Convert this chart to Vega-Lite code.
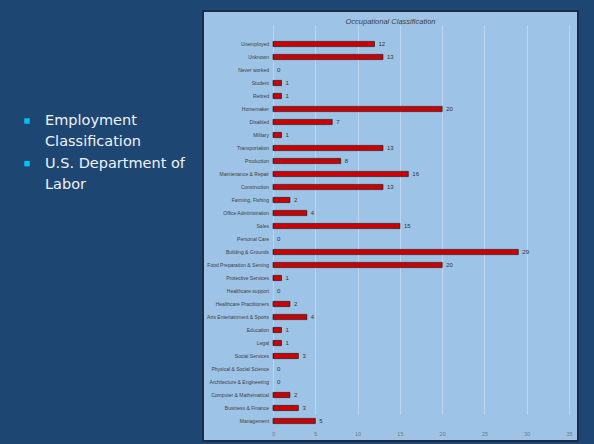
{
  "$schema": "https://vega.github.io/schema/vega-lite/v6.json",
  "background": "#1e4672",
  "padding": {"left": 0, "top": 10, "right": 16, "bottom": 4},
  "bounds": "flush",
  "spacing": 8,
  "config": {"view": {"stroke": null}, "font": "Liberation Sans"},
  "hconcat": [
    {
      "width": 195,
      "height": 430,
      "view": {"stroke": null, "fill": null},
      "data": {"values": [
        {"line": 1, "text": "Employment", "bullet": true},
        {"line": 2, "text": "Classification", "bullet": false},
        {"line": 3, "text": "U.S. Department of", "bullet": true},
        {"line": 4, "text": "Labor", "bullet": false}
      ]},
      "encoding": {
        "x": {"datum": 0, "type": "quantitative", "scale": {"domain": [0, 1], "range": [27, 195]}, "axis": null},
        "y": {"field": "line", "type": "quantitative", "scale": {"domain": [-4.156, 16.0], "reverse": true, "nice": false, "zero": false}, "axis": null}
      },
      "layer": [
        {
          "transform": [{"filter": "datum.bullet"}],
          "mark": {"type": "square", "size": 30, "color": "#00c3f3", "opacity": 1}
        },
        {
          "mark": {"type": "text", "align": "left", "baseline": "middle", "dx": 18, "font": "DejaVu Sans", "fontSize": 14.5, "color": "#eef3f8"},
          "encoding": {"text": {"field": "text"}}
        }
      ]
    },
    {
      "width": 375,
      "height": 430,
      "view": {"fill": "#9dc3e6", "stroke": "#1c2c44", "strokeWidth": 2},
      "title": {"text": "Occupational Classification", "offset": -14, "anchor": "middle", "fontSize": 7.5, "fontStyle": "italic", "fontWeight": "normal", "color": "#404040", "font": "Liberation Sans"},
      "data": {"values": [
        {"cat": "Unemployed", "value": 12},
        {"cat": "Unknown", "value": 13},
        {"cat": "Never worked", "value": 0},
        {"cat": "Student", "value": 1},
        {"cat": "Retired", "value": 1},
        {"cat": "Homemaker", "value": 20},
        {"cat": "Disabled", "value": 7},
        {"cat": "Military", "value": 1},
        {"cat": "Transportation", "value": 13},
        {"cat": "Production", "value": 8},
        {"cat": "Maintenance & Repair", "value": 16},
        {"cat": "Construction", "value": 13},
        {"cat": "Farming, Fishing", "value": 2},
        {"cat": "Office Administration", "value": 4},
        {"cat": "Sales", "value": 15},
        {"cat": "Personal Care", "value": 0},
        {"cat": "Building & Grounds", "value": 29},
        {"cat": "Food Preparation & Serving", "value": 20},
        {"cat": "Protective Services", "value": 1},
        {"cat": "Healthcare support", "value": 0},
        {"cat": "Healthcare Practitioners", "value": 2},
        {"cat": "Arts Entertainment & Sports", "value": 4},
        {"cat": "Education", "value": 1},
        {"cat": "Legal", "value": 1},
        {"cat": "Social Services", "value": 3},
        {"cat": "Physical & Social Science", "value": 0},
        {"cat": "Architecture & Engineering", "value": 0},
        {"cat": "Computer & Mathematical", "value": 2},
        {"cat": "Business & Finance", "value": 3},
        {"cat": "Management", "value": 5}
      ]},
      "encoding": {
        "y": {"field": "cat", "type": "nominal", "sort": null, "scale": {"range": [26.5, 416.5], "paddingInner": 0.6, "paddingOuter": 0.3}, "axis": null}
      },
      "layer": [
        {
          "mark": {"type": "bar", "color": "#cc0000", "stroke": "#111111", "strokeWidth": 0.6},
          "encoding": {
            "x": {"field": "value", "type": "quantitative", "scale": {"domain": [-8.28, 36.06], "nice": false, "zero": false},
                  "axis": {"values": [0, 5, 10, 15, 20, 25, 30, 35], "grid": true, "gridColor": "#bcd6ef", "domain": false, "ticks": false, "labelFontSize": 5.5, "labelColor": "#707a88", "offset": -12, "labelPadding": 2, "title": null}},
            "x2": {"datum": 0},
            "strokeOpacity": {"condition": {"test": "datum.value > 0", "value": 1}, "value": 0}
          }
        },
        {
          "mark": {"type": "text", "align": "left", "baseline": "middle", "dx": 4, "fontSize": 6, "color": "#333333"},
          "encoding": {"x": {"field": "value", "type": "quantitative"}, "text": {"field": "value"}}
        },
        {
          "mark": {"type": "text", "align": "right", "baseline": "middle", "dx": -4, "fontSize": 5, "color": "#404040"},
          "encoding": {"x": {"datum": 0, "type": "quantitative"}, "text": {"field": "cat"}}
        }
      ]
    }
  ]
}
